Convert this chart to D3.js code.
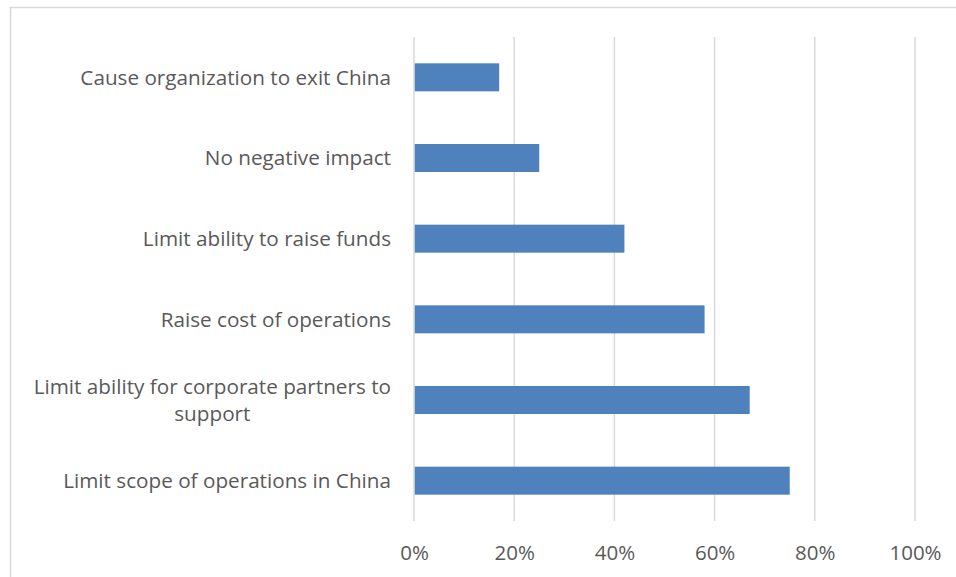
<!DOCTYPE html>
<html>
<head>
<meta charset="utf-8">
<script src="https://cdn.jsdelivr.net/npm/d3@7"></script>
<style>
  html, body { margin: 0; padding: 0; background: #fff; }
  svg text { font-family: "Open Sans", "Liberation Sans", sans-serif; fill: #595959; }
</style>
</head>
<body>
<svg id="chart" width="956" height="577"></svg>
<script>
// Expected impacts, top to bottom
const categories = [
  "Cause organization to exit China",
  "No negative impact",
  "Limit ability to raise funds",
  "Raise cost of operations",
  "Limit ability for corporate partners to support",
  "Limit scope of operations in China"
];
const shares = [17, 25, 42, 58, 67, 75];
const tickValues = [0, 20, 40, 60, 80, 100];

const svg = d3.select("#chart");

// Chart frame
svg.append("rect")
  .attr("x", 10.5).attr("y", 7.5)
  .attr("width", 960).attr("height", 600)
  .attr("fill", "none").attr("stroke", "#d9d9d9").attr("stroke-width", 1.5);

const plot = { left: 414, right: 915, top: 37, bottom: 521 };

const x = d3.scaleLinear().domain([0, 100]).range([plot.left, plot.right]);
const y = d3.scaleBand().domain(categories).range([plot.top, plot.bottom]).paddingInner(0.653).paddingOuter(0.3265);

// Vertical gridlines
svg.append("g")
  .selectAll("line")
  .data(tickValues)
  .join("line")
  .attr("x1", d => x(d)).attr("x2", d => x(d))
  .attr("y1", plot.top).attr("y2", plot.bottom)
  .attr("stroke", "#d9d9d9").attr("stroke-width", 1.5);

// Bars
svg.append("g")
  .selectAll("rect")
  .data(categories.map((c, i) => ({ c, v: shares[i] })))
  .join("rect")
  .attr("x", x(0) + 0.75)
  .attr("y", d => y(d.c))
  .attr("width", d => x(d.v) - x(0) - 0.75)
  .attr("height", y.bandwidth())
  .attr("fill", "#4f81bd");

// Bottom axis tick labels
const xAxis = d3.axisBottom(x).tickValues(tickValues).tickFormat(d => d + "%").tickSize(0).tickPadding(0);
const gx = svg.append("g").attr("transform", `translate(0, ${plot.bottom})`).call(xAxis);
gx.select(".domain").remove();
gx.selectAll("text")
  .attr("y", 0).attr("dy", null)
  .attr("transform", "translate(0, 39)")
  .style("font-size", "20.5px").style("fill", "#595959")
  .style("font-family", "\"Open Sans\", \"Liberation Sans\", sans-serif");

// Category labels, wrapped when too long
const labelRight = 391;
const maxWidth = 372;
const labels = svg.append("g");
categories.forEach(c => {
  const cy = y(c) + y.bandwidth() / 2;
  const t = labels.append("text")
    .attr("text-anchor", "middle")
    .style("font-size", "20.7px");
  t.text(c);
  const w = t.node().getComputedTextLength();
  t.text(null);
  if (w <= maxWidth) {
    t.attr("text-anchor", "end")
      .append("tspan").attr("x", labelRight).attr("y", cy).attr("dy", "0.35em").text(c);
  } else {
    const words = c.split(" ");
    let line1 = [], rest = [];
    for (let i = 0; i < words.length; i++) {
      const trial = line1.concat(words[i]).join(" ");
      t.text(trial);
      if (t.node().getComputedTextLength() <= maxWidth && rest.length === 0) line1.push(words[i]);
      else rest.push(words[i]);
    }
    t.text(null);
    const first = t.append("tspan").text(line1.join(" "));
    const w1 = first.node().getComputedTextLength();
    const cx = labelRight - w1 / 2;
    first.attr("x", cx).attr("y", cy - 13.5).attr("dy", "0.35em");
    t.append("tspan").attr("x", cx).attr("y", cy + 13.5).attr("dy", "0.35em").text(rest.join(" "));
  }
});
</script>
</body>
</html>
